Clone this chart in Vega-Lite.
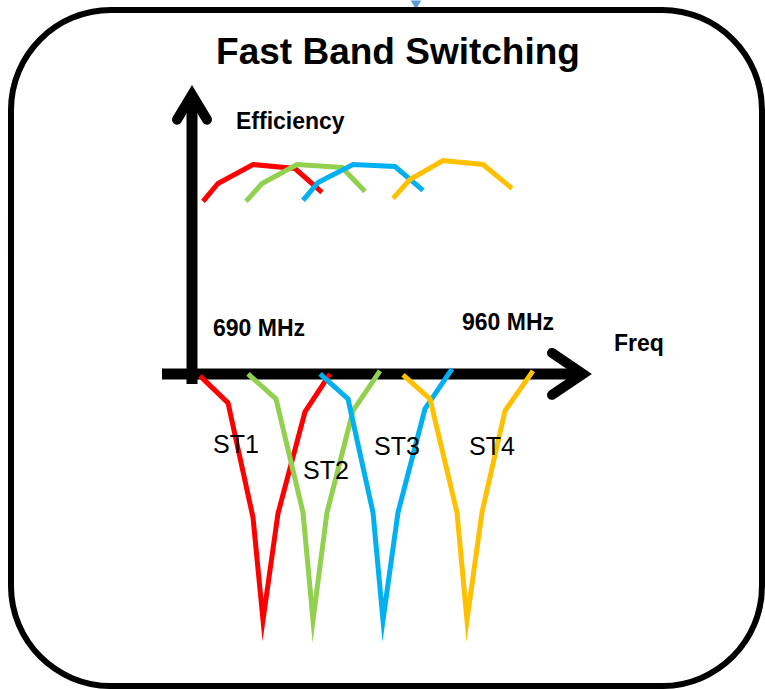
{
  "$schema": "https://vega.github.io/schema/vega-lite/v6.json",
  "width": 765,
  "height": 689,
  "autosize": {"type": "fit", "contains": "padding"},
  "padding": 0,
  "background": "white",
  "config": {"view": {"stroke": null}, "text": {"font": "Liberation Sans"}},
  "datasets": {
    "frame": [{"x": 11, "y": 8, "x2": 762, "y2": 686}],
    "marker": [{"x": 416, "y": 3}],
    "shafts": [
      {"part": "y", "i": 0, "x": 192, "y": 383},
      {"part": "y", "i": 1, "x": 192, "y": 95},
      {"part": "x", "i": 0, "x": 162, "y": 373},
      {"part": "x", "i": 1, "x": 580, "y": 373}
    ],
    "heads": [
      {"part": "y", "i": 0, "x": 177, "y": 118},
      {"part": "y", "i": 1, "x": 192, "y": 93},
      {"part": "y", "i": 2, "x": 207, "y": 118},
      {"part": "x", "i": 0, "x": 552, "y": 352},
      {"part": "x", "i": 1, "x": 583, "y": 373},
      {"part": "x", "i": 2, "x": 552, "y": 394}
    ],
    "curves": [
      {"band": "ST1", "part": "eff", "i": 0, "x": 203, "y": 200},
      {"band": "ST1", "part": "eff", "i": 1, "x": 218, "y": 182},
      {"band": "ST1", "part": "eff", "i": 2, "x": 253, "y": 163},
      {"band": "ST1", "part": "eff", "i": 3, "x": 295, "y": 167},
      {"band": "ST1", "part": "eff", "i": 4, "x": 322, "y": 191},
      {"band": "ST1", "part": "ret", "i": 0, "x": 200, "y": 375},
      {"band": "ST1", "part": "ret", "i": 1, "x": 228, "y": 402},
      {"band": "ST1", "part": "ret", "i": 2, "x": 253, "y": 517},
      {"band": "ST1", "part": "ret", "i": 3, "x": 263, "y": 620},
      {"band": "ST1", "part": "ret", "i": 4, "x": 278, "y": 513},
      {"band": "ST1", "part": "ret", "i": 5, "x": 305, "y": 411},
      {"band": "ST1", "part": "ret", "i": 6, "x": 330, "y": 373},
      {"band": "ST2", "part": "eff", "i": 0, "x": 246, "y": 200},
      {"band": "ST2", "part": "eff", "i": 1, "x": 262, "y": 182},
      {"band": "ST2", "part": "eff", "i": 2, "x": 297, "y": 163},
      {"band": "ST2", "part": "eff", "i": 3, "x": 342, "y": 166},
      {"band": "ST2", "part": "eff", "i": 4, "x": 365, "y": 190},
      {"band": "ST2", "part": "ret", "i": 0, "x": 248, "y": 373},
      {"band": "ST2", "part": "ret", "i": 1, "x": 276, "y": 398},
      {"band": "ST2", "part": "ret", "i": 2, "x": 303, "y": 512},
      {"band": "ST2", "part": "ret", "i": 3, "x": 313, "y": 620},
      {"band": "ST2", "part": "ret", "i": 4, "x": 327, "y": 512},
      {"band": "ST2", "part": "ret", "i": 5, "x": 353, "y": 410},
      {"band": "ST2", "part": "ret", "i": 6, "x": 380, "y": 370},
      {"band": "ST3", "part": "eff", "i": 0, "x": 303, "y": 199},
      {"band": "ST3", "part": "eff", "i": 1, "x": 318, "y": 181},
      {"band": "ST3", "part": "eff", "i": 2, "x": 353, "y": 163},
      {"band": "ST3", "part": "eff", "i": 3, "x": 395, "y": 165},
      {"band": "ST3", "part": "eff", "i": 4, "x": 423, "y": 189},
      {"band": "ST3", "part": "ret", "i": 0, "x": 320, "y": 373},
      {"band": "ST3", "part": "ret", "i": 1, "x": 348, "y": 398},
      {"band": "ST3", "part": "ret", "i": 2, "x": 373, "y": 512},
      {"band": "ST3", "part": "ret", "i": 3, "x": 383, "y": 620},
      {"band": "ST3", "part": "ret", "i": 4, "x": 398, "y": 512},
      {"band": "ST3", "part": "ret", "i": 5, "x": 425, "y": 408},
      {"band": "ST3", "part": "ret", "i": 6, "x": 452, "y": 368},
      {"band": "ST4", "part": "eff", "i": 0, "x": 393, "y": 197},
      {"band": "ST4", "part": "eff", "i": 1, "x": 410, "y": 178},
      {"band": "ST4", "part": "eff", "i": 2, "x": 443, "y": 159},
      {"band": "ST4", "part": "eff", "i": 3, "x": 483, "y": 163},
      {"band": "ST4", "part": "eff", "i": 4, "x": 512, "y": 187},
      {"band": "ST4", "part": "ret", "i": 0, "x": 403, "y": 374},
      {"band": "ST4", "part": "ret", "i": 1, "x": 430, "y": 398},
      {"band": "ST4", "part": "ret", "i": 2, "x": 457, "y": 512},
      {"band": "ST4", "part": "ret", "i": 3, "x": 467, "y": 620},
      {"band": "ST4", "part": "ret", "i": 4, "x": 482, "y": 512},
      {"band": "ST4", "part": "ret", "i": 5, "x": 505, "y": 410},
      {"band": "ST4", "part": "ret", "i": 6, "x": 533, "y": 370}
    ],
    "title": [{"x": 398, "y": 62, "t": "Fast Band Switching"}],
    "labels": [
      {"x": 236, "y": 127, "t": "Efficiency"},
      {"x": 213, "y": 335, "t": "690 MHz"},
      {"x": 462, "y": 329, "t": "960 MHz"},
      {"x": 614, "y": 350, "t": "Freq"}
    ],
    "stations": [
      {"x": 213, "y": 452, "t": "ST1"},
      {"x": 303, "y": 478, "t": "ST2"},
      {"x": 374, "y": 454, "t": "ST3"},
      {"x": 469, "y": 454, "t": "ST4"}
    ]
  },
  "encoding": {
    "x": {"field": "x", "type": "quantitative", "scale": {"domain": [0, 765], "nice": false, "zero": false}, "axis": null},
    "y": {"field": "y", "type": "quantitative", "scale": {"domain": [0, 689], "nice": false, "zero": false, "reverse": true}, "axis": null}
  },
  "layer": [
    {
      "data": {"name": "marker"},
      "mark": {"type": "point", "shape": "triangle-down", "filled": true, "color": "#5B9BD5", "size": 110, "opacity": 1}
    },
    {
      "data": {"name": "frame"},
      "mark": {"type": "rect", "fill": null, "fillOpacity": 0, "stroke": "black", "strokeWidth": 6, "cornerRadius": 100},
      "encoding": {"x2": {"field": "x2"}, "y2": {"field": "y2"}}
    },
    {
      "data": {"name": "shafts"},
      "mark": {"type": "line", "color": "black", "strokeWidth": 11, "strokeCap": "butt"},
      "encoding": {"detail": {"field": "part"}, "order": {"field": "i"}}
    },
    {
      "data": {"name": "heads"},
      "mark": {"type": "line", "color": "black", "strokeWidth": 10, "strokeCap": "round", "strokeJoin": "miter", "strokeMiterLimit": 10},
      "encoding": {"detail": {"field": "part"}, "order": {"field": "i"}}
    },
    {
      "data": {"name": "curves"},
      "mark": {"type": "line", "strokeWidth": 5, "strokeCap": "butt", "strokeJoin": "miter", "strokeMiterLimit": 20},
      "encoding": {
        "color": {"field": "band", "type": "nominal", "scale": {"domain": ["ST1", "ST2", "ST3", "ST4"], "range": ["#FF0000", "#92D050", "#00B0F0", "#FFC000"]}, "legend": null},
        "detail": {"field": "part"},
        "order": {"field": "i"}
      }
    },
    {
      "data": {"name": "title"},
      "mark": {"type": "text", "fontSize": 37, "fontWeight": "bold", "align": "center", "baseline": "alphabetic", "color": "black"},
      "encoding": {"text": {"field": "t"}}
    },
    {
      "data": {"name": "labels"},
      "mark": {"type": "text", "fontSize": 23, "fontWeight": "bold", "align": "left", "baseline": "alphabetic", "color": "black"},
      "encoding": {"text": {"field": "t"}}
    },
    {
      "data": {"name": "stations"},
      "mark": {"type": "text", "fontSize": 25, "fontWeight": "normal", "align": "left", "baseline": "alphabetic", "color": "black"},
      "encoding": {"text": {"field": "t"}}
    }
  ]
}
